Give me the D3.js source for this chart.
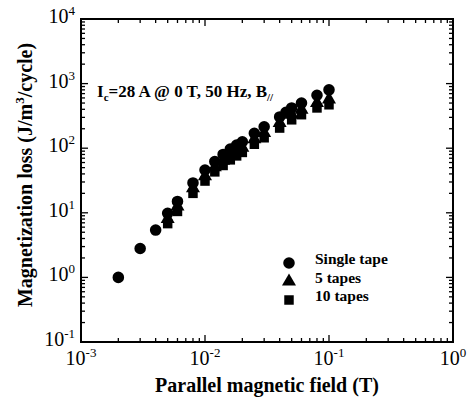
<!DOCTYPE html>
<html>
<head>
<meta charset="utf-8">
<script src="https://cdn.jsdelivr.net/npm/d3@7"></script>
<style>
  body { margin: 0; background: #fff; }
  svg { display: block; }
  text { font-family: "Liberation Serif", "Times New Roman", serif; fill: #000; }
</style>
</head>
<body>
<div id="chart"></div>
<script>
var width = 468,
    height = 400;

// field values (T)
var fieldSingle = [0.002, 0.003, 0.004, 0.005, 0.006, 0.008, 0.01, 0.012, 0.014, 0.016, 0.018, 0.02, 0.025, 0.03, 0.04, 0.045, 0.05, 0.06, 0.08, 0.1];
var fieldMulti = [0.005, 0.006, 0.008, 0.01, 0.012, 0.014, 0.016, 0.018, 0.02, 0.025, 0.03, 0.04, 0.05, 0.06, 0.08, 0.1];

// magnetization loss (J/m3/cycle)
var lossSingle = [1.0, 2.8, 5.4, 9.8, 15, 29, 46, 62, 80, 97, 112, 126, 170, 215, 305, 360, 420, 500, 660, 800];
var loss5 = [8.0, 12.5, 24, 37, 51, 64, 78, 90, 102, 138, 172, 245, 330, 395, 500, 570];
var loss10 = [6.8, 10.5, 20, 31, 43, 54, 66, 76, 86, 115, 145, 205, 275, 330, 420, 470];

var xTickExp = [-3, -2, -1, 0];
var yTickExp = [-1, 0, 1, 2, 3, 4];

var legendNames = ["Single tape", "5 tapes", "10 tapes"];

var margin = {left: 81, right: 15, top: 19, bottom: 58};

var x = d3.scaleLog()
  .domain([1e-3, 1])
  .range([margin.left, width - margin.right]);

var y = d3.scaleLog()
  .domain([1e-1, 1e4])
  .range([height - margin.bottom, margin.top]);

var svg = d3.select("#chart").append("svg")
  .attr("width", width)
  .attr("height", height);

var x0 = x.range()[0], x1 = x.range()[1];
var y0 = y.range()[0], y1 = y.range()[1];

// minor + major tick values
function logTicks(scale) {
  var d = scale.domain();
  var out = [];
  for (var e = Math.round(Math.log10(d[0])); e < Math.round(Math.log10(d[1])); e++) {
    for (var m = 1; m < 10; m++) out.push({v: m * Math.pow(10, e), major: m === 1});
  }
  out.push({v: d[1], major: true});
  return out;
}

var g = {
  add: function(id) {
    this[id] = svg.append("g").attr("id", id);
  }
};
g.add("ticks");
g.add("frame");
g.add("labels");
g.add("points");
g.add("legend");

// ticks pointing inward, mirrored on top / right
logTicks(x).forEach(function(t) {
  var len = t.major ? 7 : 4;
  var px = x(t.v);
  g.ticks.append("line").attr("x1", px).attr("x2", px).attr("y1", y0).attr("y2", y0 - len);
  g.ticks.append("line").attr("x1", px).attr("x2", px).attr("y1", y1).attr("y2", y1 + len);
});
logTicks(y).forEach(function(t) {
  var len = t.major ? 7 : 4;
  var py = y(t.v);
  g.ticks.append("line").attr("x1", x0).attr("x2", x0 + len).attr("y1", py).attr("y2", py);
  g.ticks.append("line").attr("x1", x1).attr("x2", x1 - len).attr("y1", py).attr("y2", py);
});
g.ticks.selectAll("line").attr("stroke", "#000").attr("stroke-width", 1.3);

g.frame.append("rect")
  .attr("x", x0).attr("y", y1)
  .attr("width", x1 - x0).attr("height", y0 - y1)
  .attr("fill", "none")
  .attr("stroke", "#000")
  .attr("stroke-width", 2);

// tick labels 10^n
function powLabel(sel, e) {
  sel.append("tspan").text("10");
  sel.append("tspan").attr("font-size", 13).attr("dy", -8).text(e);
}

xTickExp.forEach(function(e) {
  var t = g.labels.append("text")
    .attr("x", x(Math.pow(10, e)))
    .attr("y", y0 + 23)
    .attr("text-anchor", "middle")
    .attr("font-size", 20);
  powLabel(t, e);
});

yTickExp.forEach(function(e) {
  var t = g.labels.append("text")
    .attr("x", x0 - 6)
    .attr("y", y(Math.pow(10, e)) + 4)
    .attr("text-anchor", "end")
    .attr("font-size", 20);
  powLabel(t, e);
});

// axis titles
g.labels.append("text")
  .attr("x", 267)
  .attr("y", 392)
  .attr("text-anchor", "middle")
  .attr("font-size", 20)
  .attr("font-weight", "bold")
  .text("Parallel magnetic field (T)");

var yl = g.labels.append("text")
  .attr("transform", "translate(32,175) rotate(-90)")
  .attr("text-anchor", "middle")
  .attr("font-size", 20)
  .attr("font-weight", "bold");
yl.append("tspan").text("Magnetization loss (J/m");
yl.append("tspan").attr("font-size", 13).attr("dy", -8).text("3");
yl.append("tspan").attr("dy", 8).text("/cycle)");

// annotation
var ann = g.labels.append("text")
  .attr("x", 97)
  .attr("y", 97)
  .attr("font-size", 17)
  .attr("font-weight", "bold");
ann.append("tspan").text("I");
ann.append("tspan").attr("font-size", 11).attr("dy", 4).text("c");
ann.append("tspan").attr("dy", -4).text("=28 A @ 0 T, 50 Hz, B");
ann.append("tspan").attr("font-size", 11).attr("dy", 4).text("//");

// data markers
var symbols = [d3.symbolCircle, d3.symbolTriangle, d3.symbolSquare];
var sizes = [105, 85, 90];
var series = [
  {xs: fieldSingle, ys: lossSingle},
  {xs: fieldMulti, ys: loss5},
  {xs: fieldMulti, ys: loss10}
];

series.slice().reverse().forEach(function(s, ri) {
  var i = series.length - 1 - ri;
  var sym = d3.symbol().type(symbols[i]).size(sizes[i]);
  g.points.selectAll(null)
    .data(d3.zip(s.xs, s.ys))
    .enter()
    .append("path")
    .attr("transform", function(d) { return "translate(" + x(d[0]) + "," + y(d[1]) + ")"; })
    .attr("d", sym)
    .attr("fill", "#000");
});

// legend
legendNames.forEach(function(name, i) {
  var ly = 263 + i * 18.5;
  g.legend.append("path")
    .attr("transform", "translate(289," + ly + ")")
    .attr("d", d3.symbol().type(symbols[i]).size(sizes[i])())
    .attr("fill", "#000");
  g.legend.append("text")
    .attr("x", 315)
    .attr("y", ly + 1)
    .attr("font-size", 15.5)
    .attr("font-weight", "bold")
    .text(name);
});
</script>
</body>
</html>
